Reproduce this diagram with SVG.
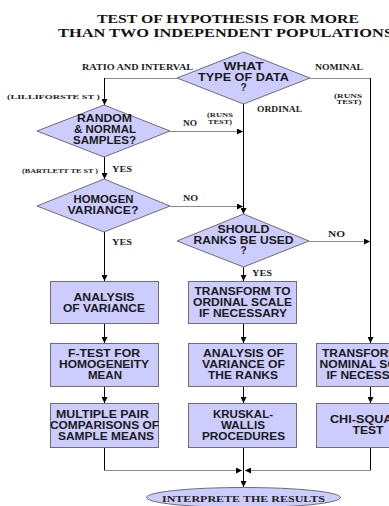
<svg xmlns="http://www.w3.org/2000/svg" width="389" height="506" viewBox="0 0 389 506">
  <style>
    .title { font-family: "Liberation Serif", "Times New Roman", serif; font-weight: bold; font-size: 12px; fill: #111; }
    .lbl { font-family: "Liberation Serif", "Times New Roman", serif; font-weight: bold; font-size: 8px; fill: #222; }
    .tiny { font-family: "Liberation Serif", "Times New Roman", serif; font-weight: bold; font-size: 5.5px; fill: #222; }
    .nt { font-family: "Liberation Sans", Arial, sans-serif; font-weight: bold; font-size: 10px; fill: #1a1a1a; text-anchor: middle; }
    .et { font-family: "Liberation Serif", "Times New Roman", serif; font-weight: bold; font-size: 9px; fill: #222; text-anchor: middle; }
    .shape { fill: #ccccff; stroke: #6e6e6e; stroke-width: 1; }
    .h { stroke: #8c8c8c; stroke-width: 1; fill: none; }
    .v { stroke: #000; stroke-width: 1; fill: none; }
  </style>
  <defs>
    <marker id="arrow" viewBox="0 0 6 6" refX="6" refY="3" markerWidth="6" markerHeight="6" markerUnits="userSpaceOnUse" orient="auto">
      <path d="M0,0 L6,3 L0,6 z" fill="#000"/>
    </marker>
  </defs>

  <rect width="389" height="506" fill="#fff"/>

  <!-- heading -->
  <text class="title" x="228" y="23" text-anchor="middle" textLength="262" lengthAdjust="spacingAndGlyphs">TEST OF HYPOTHESIS FOR MORE</text>
  <text class="title" x="58" y="36.5" textLength="335" lengthAdjust="spacingAndGlyphs">THAN TWO INDEPENDENT POPULATIONS</text>

  <!-- connectors -->
  <g id="connectors">
    <line class="h" x1="177" y1="78.5" x2="104.5" y2="78.5"/>
    <line class="v" x1="104.5" y1="78" x2="104.5" y2="105" marker-end="url(#arrow)"/>
    <line class="h" x1="310" y1="78.5" x2="370.5" y2="78.5"/>
    <line class="v" x1="370.5" y1="78" x2="370.5" y2="343" marker-end="url(#arrow)"/>
    <line class="v" x1="243.5" y1="103" x2="243.5" y2="214" marker-end="url(#arrow)"/>
    <line class="h" x1="170" y1="131.5" x2="243" y2="131.5" marker-end="url(#arrow)"/>
    <line class="v" x1="104.5" y1="157" x2="104.5" y2="179" marker-end="url(#arrow)"/>
    <line class="h" x1="170" y1="206.5" x2="243" y2="206.5" marker-end="url(#arrow)"/>
    <line class="v" x1="104.5" y1="232" x2="104.5" y2="281" marker-end="url(#arrow)"/>
    <line class="h" x1="309" y1="241.5" x2="370" y2="241.5" marker-end="url(#arrow)"/>
    <line class="v" x1="243.5" y1="267" x2="243.5" y2="281" marker-end="url(#arrow)"/>
    <line class="v" x1="104.5" y1="323" x2="104.5" y2="343" marker-end="url(#arrow)"/>
    <line class="v" x1="104.5" y1="387" x2="104.5" y2="403" marker-end="url(#arrow)"/>
    <line class="v" x1="243.5" y1="323" x2="243.5" y2="343" marker-end="url(#arrow)"/>
    <line class="v" x1="243.5" y1="387" x2="243.5" y2="403" marker-end="url(#arrow)"/>
    <line class="v" x1="370.5" y1="387" x2="370.5" y2="403" marker-end="url(#arrow)"/>
    <line class="v" x1="104.5" y1="448" x2="104.5" y2="470.5"/>
    <line class="h" x1="104" y1="470.5" x2="242" y2="470.5" marker-end="url(#arrow)"/>
    <line class="v" x1="370.5" y1="448" x2="370.5" y2="470.5"/>
    <line class="h" x1="371" y1="470.5" x2="245" y2="470.5" marker-end="url(#arrow)"/>
    <line class="v" x1="243.5" y1="448" x2="243.5" y2="487" marker-end="url(#arrow)"/>
  </g>

  <!-- branch labels -->
  <text class="lbl" x="82" y="70" textLength="111" lengthAdjust="spacingAndGlyphs">RATIO AND INTERVAL</text>
  <text class="lbl" x="315" y="70" textLength="48" lengthAdjust="spacingAndGlyphs">NOMINAL</text>
  <text class="tiny" x="7" y="99" textLength="93" lengthAdjust="spacingAndGlyphs">(LILLIFORSTE ST )</text>
  <text class="tiny" x="348" y="98" text-anchor="middle" textLength="28" lengthAdjust="spacingAndGlyphs">(RUNS</text>
  <text class="tiny" x="349" y="104" text-anchor="middle" textLength="25" lengthAdjust="spacingAndGlyphs">TEST)</text>
  <text class="lbl" x="257" y="112" textLength="45" lengthAdjust="spacingAndGlyphs">ORDINAL</text>
  <text class="tiny" x="220" y="117" text-anchor="middle" textLength="26" lengthAdjust="spacingAndGlyphs">(RUNS</text>
  <text class="tiny" x="220" y="123.5" text-anchor="middle" textLength="24" lengthAdjust="spacingAndGlyphs">TEST)</text>
  <text class="lbl" x="183" y="126" textLength="14" lengthAdjust="spacingAndGlyphs">NO</text>
  <text class="lbl" x="112" y="172" textLength="20" lengthAdjust="spacingAndGlyphs">YES</text>
  <text class="tiny" x="22" y="173" textLength="76" lengthAdjust="spacingAndGlyphs">(BARTLETT TE ST )</text>
  <text class="lbl" x="183" y="201" textLength="15" lengthAdjust="spacingAndGlyphs">NO</text>
  <text class="lbl" x="112" y="245" textLength="20" lengthAdjust="spacingAndGlyphs">YES</text>
  <text class="lbl" x="328" y="237" textLength="17" lengthAdjust="spacingAndGlyphs">NO</text>
  <text class="lbl" x="252" y="276" textLength="20" lengthAdjust="spacingAndGlyphs">YES</text>

  <!-- decisions -->
  <g id="data-type">
    <polygon class="shape" points="243.5,52 310,78 243.5,104 177,78"/>
    <text class="nt" x="243.5" y="69.5" textLength="40" lengthAdjust="spacingAndGlyphs">WHAT</text>
    <text class="nt" x="243.5" y="81" textLength="91" lengthAdjust="spacingAndGlyphs">TYPE  OF DATA</text>
    <text class="nt" x="243.5" y="91">?</text>
  </g>
  <g id="random-normal">
    <polygon class="shape" points="104,105 170,131 104,157 37,131"/>
    <text class="nt" x="104.5" y="122" textLength="55" lengthAdjust="spacingAndGlyphs">RANDOM</text>
    <text class="nt" x="105" y="133" textLength="62" lengthAdjust="spacingAndGlyphs">&amp; NORMAL</text>
    <text class="nt" x="104.5" y="144" textLength="63" lengthAdjust="spacingAndGlyphs">SAMPLES?</text>
  </g>
  <g id="homogen-variance">
    <polygon class="shape" points="104,179 170,206 104,232 37,206"/>
    <text class="nt" x="103.5" y="203" textLength="60" lengthAdjust="spacingAndGlyphs">HOMOGEN</text>
    <text class="nt" x="103" y="214" textLength="71" lengthAdjust="spacingAndGlyphs">VARIANCE?</text>
  </g>
  <g id="ranks-used">
    <polygon class="shape" points="243.5,214 309,241 243.5,267 177,241"/>
    <text class="nt" x="243.5" y="233" textLength="52" lengthAdjust="spacingAndGlyphs">SHOULD</text>
    <text class="nt" x="243.5" y="244" textLength="100" lengthAdjust="spacingAndGlyphs">RANKS BE USED</text>
    <text class="nt" x="243.5" y="254">?</text>
  </g>

  <!-- parametric column -->
  <g id="anova">
    <rect class="shape" x="50.5" y="281.5" width="108" height="42"/>
    <text class="nt" x="104" y="301" textLength="61" lengthAdjust="spacingAndGlyphs">ANALYSIS</text>
    <text class="nt" x="104" y="312" textLength="82" lengthAdjust="spacingAndGlyphs">OF VARIANCE</text>
  </g>
  <g id="f-test">
    <rect class="shape" x="50.5" y="343.5" width="108" height="43"/>
    <text class="nt" x="104" y="357" textLength="72" lengthAdjust="spacingAndGlyphs">F-TEST FOR</text>
    <text class="nt" x="104" y="368" textLength="90" lengthAdjust="spacingAndGlyphs">HOMOGENEITY</text>
    <text class="nt" x="105" y="379" textLength="34" lengthAdjust="spacingAndGlyphs">MEAN</text>
  </g>
  <g id="pair-comparisons">
    <rect class="shape" x="50.5" y="403.5" width="108" height="44"/>
    <text class="nt" x="102.5" y="418" textLength="93" lengthAdjust="spacingAndGlyphs">MULTIPLE PAIR</text>
    <text class="nt" x="104.5" y="429" textLength="109" lengthAdjust="spacingAndGlyphs">COMPARISONS OF</text>
    <text class="nt" x="106" y="440" textLength="96" lengthAdjust="spacingAndGlyphs">SAMPLE MEANS</text>
  </g>

  <!-- rank column -->
  <g id="ordinal-transform">
    <rect class="shape" x="188.5" y="281.5" width="108" height="42"/>
    <text class="nt" x="242.5" y="295" textLength="96" lengthAdjust="spacingAndGlyphs">TRANSFORM TO</text>
    <text class="nt" x="242.5" y="306" textLength="99" lengthAdjust="spacingAndGlyphs">ORDINAL SCALE</text>
    <text class="nt" x="243" y="317" textLength="88" lengthAdjust="spacingAndGlyphs">IF NECESSARY</text>
  </g>
  <g id="rank-anova">
    <rect class="shape" x="188.5" y="343.5" width="108" height="43"/>
    <text class="nt" x="243.5" y="357" textLength="81" lengthAdjust="spacingAndGlyphs">ANALYSIS OF</text>
    <text class="nt" x="243.5" y="368" textLength="83" lengthAdjust="spacingAndGlyphs">VARIANCE OF</text>
    <text class="nt" x="243" y="379" textLength="70" lengthAdjust="spacingAndGlyphs">THE RANKS</text>
  </g>
  <g id="kruskal-wallis">
    <rect class="shape" x="188.5" y="403.5" width="108" height="44"/>
    <text class="nt" x="243" y="418" textLength="60" lengthAdjust="spacingAndGlyphs">KRUSKAL-</text>
    <text class="nt" x="243" y="429" textLength="44" lengthAdjust="spacingAndGlyphs">WALLIS</text>
    <text class="nt" x="243.5" y="440" textLength="83" lengthAdjust="spacingAndGlyphs">PROCEDURES</text>
  </g>

  <!-- nominal column -->
  <g id="nominal-transform">
    <rect class="shape" x="316.5" y="343.5" width="108" height="43"/>
    <text class="nt" x="370" y="357" textLength="96" lengthAdjust="spacingAndGlyphs">TRANSFORM TO</text>
    <text class="nt" x="370" y="368" textLength="101" lengthAdjust="spacingAndGlyphs">NOMINAL SCALE</text>
    <text class="nt" x="370.5" y="379" textLength="88" lengthAdjust="spacingAndGlyphs">IF NECESSARY</text>
  </g>
  <g id="chi-square">
    <rect class="shape" x="316.5" y="403.5" width="108" height="44"/>
    <text class="nt" x="370" y="423" textLength="80" lengthAdjust="spacingAndGlyphs">CHI-SQUARE</text>
    <text class="nt" x="368" y="434" textLength="31" lengthAdjust="spacingAndGlyphs">TEST</text>
  </g>

  <!-- terminal -->
  <g id="interpret">
    <ellipse class="shape" cx="243.5" cy="497.5" rx="97" ry="10"/>
    <text class="et" x="243.5" y="502" textLength="163" lengthAdjust="spacingAndGlyphs">INTERPRETE THE RESULTS</text>
  </g>
</svg>
